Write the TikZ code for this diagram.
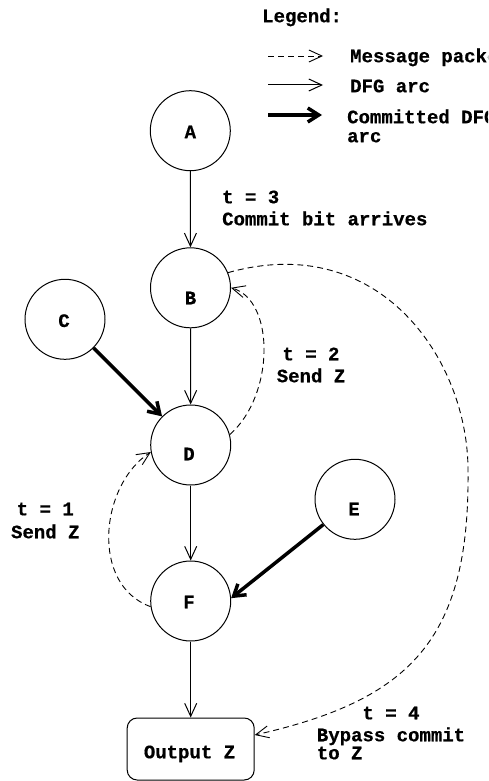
\documentclass[tikz,border=0pt]{standalone}
\usepackage{fontspec}
\setmainfont{Liberation Mono}[BoldFeatures={FakeBold=0.6}]
\usetikzlibrary{arrows.meta}
\tikzset{
  vertex/.style={circle, draw, line width=1pt, minimum size=80pt, inner sep=0pt},
  outbox/.style={draw, rounded corners=10pt, line width=1pt, minimum width=127pt, minimum height=62pt, inner sep=0pt},
  txt/.style={font=\fontsize{19}{22}\selectfont\bfseries, inner sep=0pt, text height=10.5pt, text depth=0pt},
  dfg/.style={line width=1pt, -{Straight Barb[length=13pt,width=12pt]}},
  committed/.style={line width=3.5pt, -{Straight Barb[length=11pt,width=14pt]}},
  msg/.style={line width=0.9pt, dash pattern=on 6pt off 4pt, -{Straight Barb[length=13pt,width=12pt]}},
}
\begin{document}
\begin{tikzpicture}[x=1pt, y=-1pt]
\useasboundingbox (0,0) rectangle (488,781);
\clip (0,0) rectangle (488,781);

% legend
\node[txt, anchor=west] (legend) at (262,17) {Legend:};
\coordinate (l1a) at (268,56);  \coordinate (l1b) at (323,56);
\coordinate (l2a) at (268,85);  \coordinate (l2b) at (323,85);
\coordinate (l3a) at (268,115); \coordinate (l3b) at (322,115);
\draw[msg] (l1a) -- (l1b);
\draw[dfg] (l2a) -- (l2b);
\draw[committed] (l3a) -- (l3b);
\node[txt, anchor=west] (lmsg) at (350,57) {Message packet};
\node[txt, anchor=west] (ldfg) at (350,87) {DFG arc};
\node[txt, anchor=west] (lcom) at (347,118) {Committed DFG};
\node[txt, anchor=west] (lcom2) at (347,137) {arc};

% dataflow graph nodes
\node[vertex] (A) at (190.3,130.7) {};
\node[vertex] (B) at (190.5,287.8) {};
\node[vertex] (C) at (65,319.3) {};
\node[vertex] (D) at (190.7,445) {};
\node[vertex] (E) at (355,499.3) {};
\node[vertex] (F) at (190.7,601) {};
\node[outbox] (out) at (190.7,749) {};

\node[txt] (Alab) at (190.3,133) {A};
\node[txt] (Blab) at (190.5,299) {B};
\node[txt] (Clab) at (64,321.7) {C};
\node[txt] (Dlab) at (189,455) {D};
\node[txt] (Elab) at (354,510) {E};
\node[txt] (Flab) at (189,603) {F};
\node[txt] (outlab) at (189.5,753) {Output Z};

% DFG arcs
\draw[dfg] (A) -- (B);
\draw[dfg] (B) -- (D);
\draw[dfg] (D) -- (F);
\draw[dfg] (F) -- (out);

% committed arcs
\draw[committed] (C) -- (D);
\draw[committed] (E) -- (F.4);

% message packets
\draw[msg] (D.15) .. controls (275,395) and (275,300) .. (B.east);
\draw[msg] (F.188) .. controls (90,585) and (100,485) .. (D.190);
\draw[msg] (B.22) .. controls (380,230) and (468,360) .. (468,470)
               .. controls (470,640) and (410,700) .. ([yshift=14pt]out.east);

% annotations
\node[txt, anchor=west] (t3) at (222,198) {t = 3};
\node[txt, anchor=west] (t3b) at (222,220) {Commit bit arrives};
\node[txt] (t2) at (311,355) {t = 2};
\node[txt] (t2b) at (311,377) {Send Z};
\node[txt] (t1) at (45.3,510) {t = 1};
\node[txt] (t1b) at (45.3,533) {Send Z};
\node[txt] (t4) at (391,714) {t = 4};
\node[txt, anchor=west] (t4b) at (316.7,736) {Bypass commit};
\node[txt, anchor=west] (t4c) at (316.7,754) {to Z};
\end{tikzpicture}
\end{document}
